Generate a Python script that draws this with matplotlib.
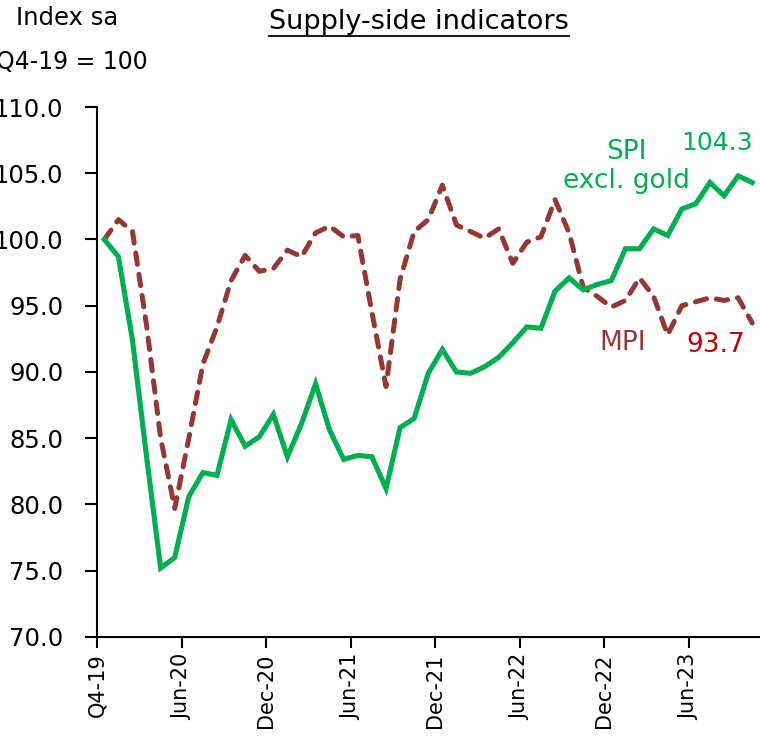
import numpy as np
import matplotlib
matplotlib.use("Agg")
import matplotlib.pyplot as plt
from matplotlib.lines import Line2D

# Monthly index, Q4-19 = 100 (first point), then Jan-20 ... Oct-23
spi = [100.0, 98.7, 92.4, 83.6, 75.2, 76.0, 80.6, 82.4, 82.2, 86.4,
       84.4, 85.1, 86.8, 83.6, 86.1, 89.1, 85.6, 83.4, 83.7, 83.6,
       81.2, 85.8, 86.5, 89.9, 91.7, 90.0, 89.9, 90.4, 91.1, 92.2,
       93.4, 93.3, 96.1, 97.1, 96.2, 96.6, 96.9, 99.3, 99.3, 100.8,
       100.3, 102.3, 102.7, 104.3, 103.3, 104.8, 104.3]
mpi = [100.0, 101.5, 100.6, 93.5, 85.0, 79.7, 85.0, 90.6, 93.4, 96.9,
       98.8, 97.6, 97.8, 99.2, 98.7, 100.5, 101.0, 100.2, 100.3, 94.5,
       88.9, 97.0, 100.6, 101.5, 104.1, 101.1, 100.6, 100.1, 100.8, 98.2,
       99.8, 100.2, 103.0, 100.5, 96.4, 95.7, 94.9, 95.4, 97.1, 95.7,
       92.8, 95.0, 95.3, 95.6, 95.4, 95.6, 93.7]
tick_labels = ["Q4-19", "Jun-20", "Dec-20", "Jun-21", "Dec-21",
               "Jun-22", "Dec-22", "Jun-23"]

green = "#00B050"
brown = "#953735"
red = "#C00000"

n = len(spi)
x = np.arange(n) + 0.5  # points sit between category boundaries

fig = plt.figure(figsize=(7.6, 7.41), dpi=100)
ax = fig.add_axes([0.128, 0.1404, 0.871, 0.7152])

ax.plot(x, mpi, color=brown, lw=3.6, dashes=(2.3, 2.0),
        dash_capstyle="round", solid_capstyle="round")
ax.plot(x, spi, color=green, lw=3.7, solid_joinstyle="miter")

ax.set_xlim(0, n)
ax.set_ylim(70, 110)
ax.set_yticks(np.arange(70, 111, 5))
ax.set_yticklabels([f"{v:.1f}" for v in np.arange(70, 111, 5)])
ax.set_xticks(np.arange(0, 6 * len(tick_labels), 6))
ax.set_xticklabels(tick_labels, rotation=90)

for s in ["top", "right"]:
    ax.spines[s].set_visible(False)
for s in ["left", "bottom"]:
    ax.spines[s].set_linewidth(1.5)
ax.tick_params(axis="y", direction="out", length=8.5, width=1.5,
               pad=16, labelsize=17.5)
ax.tick_params(axis="x", direction="out", length=8, width=1.5,
               pad=4, labelsize=15)

# series labels
ax.text(37.6, 106.6, "SPI", color=green, fontsize=19, ha="center", va="center")
ax.text(37.6, 104.4, "excl. gold", color=green, fontsize=19, ha="center", va="center")
ax.text(44.0, 107.3, "104.3", color=green, fontsize=18, ha="center", va="center")
ax.text(37.3, 92.2, "MPI", color=brown, fontsize=19, ha="center", va="center")
ax.text(43.9, 92.0, "93.7", color=red, fontsize=19, ha="center", va="center")

# header texts
fig.text(67 / 760, 1 - 18 / 741, "Index sa", fontsize=17.5, ha="center", va="center")
fig.text(72 / 760, 1 - 62 / 741, "Q4-19 = 100", fontsize=17, ha="center", va="center")
title = fig.text(419 / 760, 1 - 22 / 741, "Supply-side indicators",
                 fontsize=19.5, ha="center", va="center")

# underline the title
fig.canvas.draw()
bb = title.get_window_extent().transformed(fig.transFigure.inverted())
fig.add_artist(Line2D([bb.x0, bb.x1], [bb.y0 - 0.001, bb.y0 - 0.001],
                      transform=fig.transFigure, color="black", lw=1.3))

fig.savefig("out.png", dpi=100)
